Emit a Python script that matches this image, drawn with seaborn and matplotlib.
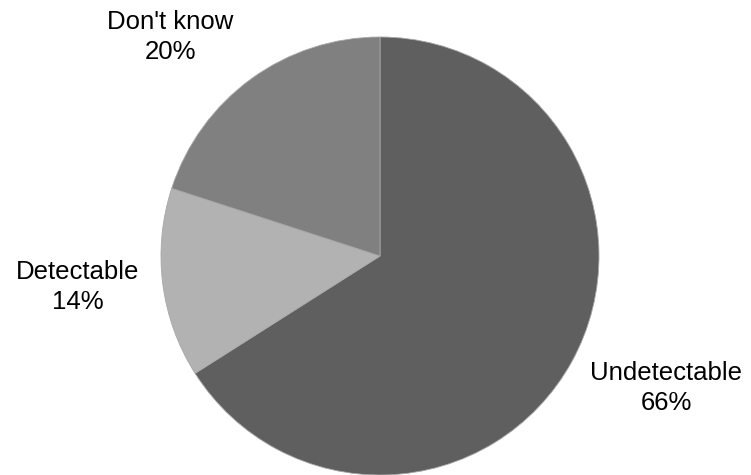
import matplotlib
matplotlib.use("Agg")
import matplotlib.pyplot as plt
import seaborn as sns

categories = ["Undetectable", "Detectable", "Don't know"]
values = [66, 14, 20]
colors = ["#5f5f5f", "#b2b2b2", "#808080"]

sns.set_theme(style="white")
plt.rcParams["font.family"] = ["Liberation Sans", "DejaVu Sans"]

W, H = 751, 475
fig = plt.figure(figsize=(W / 100, H / 100), dpi=100)
ax = fig.add_axes([0, 0, 1, 1])

cx, cy, r = 380, H - 256, 219
ax.pie(values, colors=colors, startangle=90, counterclock=False,
       center=(cx, cy), radius=r, frame=True,
       wedgeprops=dict(edgecolor="#a8a8a8", linewidth=0.6))
ax.set_xlim(0, W)
ax.set_ylim(0, H)
ax.set_aspect("equal")
ax.axis("off")

label_pos = {"Undetectable": (666, 388), "Detectable": (78, 287), "Don't know": (170, 37)}
for cat, v in zip(categories, values):
    px, py = label_pos[cat]
    ax.text(px, H - py, f"{cat}\n{v}%", ha="center", va="center",
            fontsize=18.5, color="black", linespacing=1.32)

fig.savefig("out.png", dpi=100)
